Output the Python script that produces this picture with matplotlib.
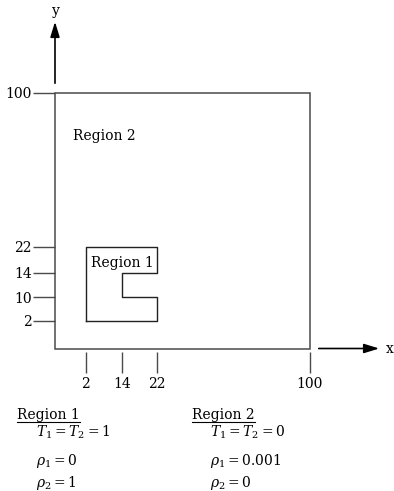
import matplotlib
matplotlib.use("Agg")
import matplotlib.pyplot as plt
from matplotlib.patches import Rectangle, FancyArrowPatch
from matplotlib.lines import Line2D
import numpy as np

plt.rcParams['font.family'] = ['DejaVu Serif']
plt.rcParams['mathtext.fontset'] = 'dejavuserif'

# boundary of region 1 (notched square)
region1_x = [2, 22, 22, 14, 14, 22, 22, 2, 2]
region1_y = [2, 2, 10, 10, 14, 14, 22, 22, 2]

x_ticks = [2, 14, 22, 100]
y_ticks = [2, 10, 14, 22, 100]

# schematic (not to scale) axis: value breaks and where they are drawn
x_breaks = [0, 2, 14, 22, 100]
x_drawn = [0, 12.3, 26.4, 40, 100]
y_breaks = [0, 2, 10, 14, 22, 100]
y_drawn = [0, 11, 20.3, 29.7, 40, 100]

region1_props = [r'$T_1 = T_2 = 1$', r'$\rho_1 = 0$', r'$\rho_2 = 1$']
region2_props = [r'$T_1 = T_2 = 0$', r'$\rho_1 = 0.001$', r'$\rho_2 = 0$']

W, H = 394, 491
fs = 10
fig = plt.figure(figsize=(W / 100, H / 100), dpi=100)
ax = fig.add_axes([54.5 / W, (H - 349) / H, 255.5 / W, 256 / H])

ax.set_xscale('function', functions=(lambda v: np.interp(v, x_breaks, x_drawn),
                                     lambda v: np.interp(v, x_drawn, x_breaks)))
ax.set_yscale('function', functions=(lambda v: np.interp(v, y_breaks, y_drawn),
                                     lambda v: np.interp(v, y_drawn, y_breaks)))
ax.set_xlim(0, 100)
ax.set_ylim(0, 100)

box_col = '#4a4a4a'
for s in ax.spines.values():
    s.set_visible(False)
ax.spines['bottom'].set_position(('outward', 2.5))
ax.add_patch(Rectangle((0, 0), 1, 1, transform=ax.transAxes, fill=False,
                       ec=box_col, lw=1.1, clip_on=False))

ax.set_xticks(x_ticks)
ax.set_yticks(y_ticks)
ax.set_xticklabels([str(t) for t in x_ticks])
ax.set_yticklabels([str(t) for t in y_ticks])
ax.xaxis.set_minor_locator(matplotlib.ticker.NullLocator())
ax.yaxis.set_minor_locator(matplotlib.ticker.NullLocator())
ax.tick_params(axis='x', direction='out', length=15, width=1.0, color=box_col,
               labelsize=fs, pad=3)
ax.tick_params(axis='y', direction='out', length=15.8, width=1.0, color=box_col,
               labelsize=fs, pad=0.5)

ax.plot(region1_x, region1_y, color='#222222', lw=1.0, clip_on=False)

ax.text(0.072, 0.832, 'Region 2', transform=ax.transAxes, fontsize=fs,
        ha='left', va='center')
ax.text(0.143, 0.336, 'Region 1', transform=ax.transAxes, fontsize=fs,
        ha='left', va='center')

# coordinate arrows
def px(x, y):
    return (x / W, 1 - y / H)

head = '-|>,head_length=0.65,head_width=0.2'
fig.add_artist(FancyArrowPatch(px(55, 86), px(55, 19), transform=fig.transFigure,
                               arrowstyle=head, mutation_scale=14, color='black', lw=1.2))
fig.add_artist(FancyArrowPatch(px(316, 348.5), px(382, 348.5), transform=fig.transFigure,
                               arrowstyle=head, mutation_scale=14, color='black', lw=1.2))
fig.text(*px(56, 11), 'y', fontsize=fs, ha='center', va='center')
fig.text(*px(386, 349), 'x', fontsize=fs, ha='left', va='center')

# property tables under the diagram
heads = []
for x0, indent, title, props in [(17, 36, 'Region 1', region1_props),
                                 (192, 210, 'Region 2', region2_props)]:
    heads.append(fig.text(*px(x0, 419.5), title, fontsize=fs, ha='left', va='baseline'))
    for row, s in zip([437, 464.5, 487.5], props):
        fig.text(*px(indent, row), s, fontsize=fs, ha='left', va='baseline')

fig.canvas.draw()
r = fig.canvas.get_renderer()
for t in heads:
    bb = t.get_window_extent(r)
    y = H - 421.5
    fig.add_artist(Line2D([bb.x0 / W, bb.x1 / W], [y / H, y / H],
                          transform=fig.transFigure, color='black', lw=0.8))

fig.savefig('out.png', dpi=100)
